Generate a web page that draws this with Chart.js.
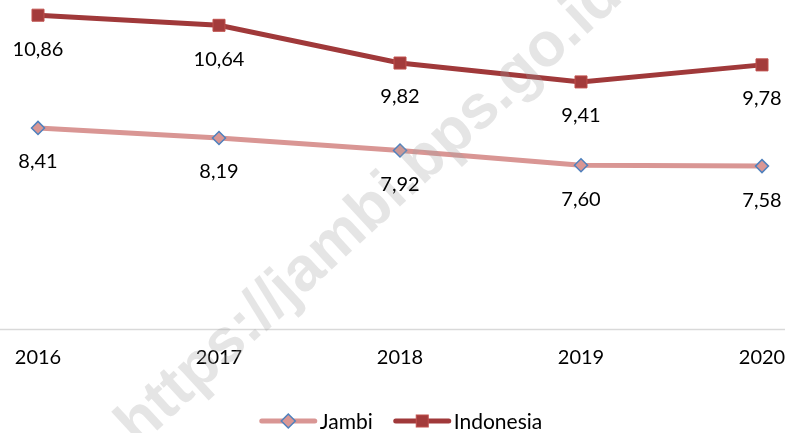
<!DOCTYPE html>
<html><head><meta charset="utf-8">
<script src="https://cdn.jsdelivr.net/npm/chart.js@4"></script>
<style>html,body{margin:0;padding:0;background:#fff;overflow:hidden}#wrap{width:785px;height:433px;position:relative}</style>
</head><body><div id="wrap"><canvas id="c" width="785" height="433"></canvas></div>
<script>
const years = ['2016', '2017', '2018', '2019', '2020'];
const jambi = [8.41, 8.19, 7.92, 7.60, 7.58];
const indonesia = [10.86, 10.64, 9.82, 9.41, 9.78];
const seriesNames = ['Jambi', 'Indonesia'];
const watermarkText = 'https://jambi.bps.go.id';

const FONT = 'Lato, "Open Sans", sans-serif';
const C_IND_LINE = '#A0393A', C_IND_FILL = '#A33B3B', C_IND_BORDER = '#C0504D';
const C_JAM_LINE = '#D99694', C_JAM_FILL = '#D99694', C_JAM_BORDER = '#4F81BD';

function drawDiamond(g, x, y) {
  g.beginPath(); g.moveTo(x - 7, y); g.lineTo(x, y - 7); g.lineTo(x + 7, y); g.lineTo(x, y + 7); g.closePath();
  g.fillStyle = C_JAM_FILL; g.fill(); g.lineWidth = 1.5; g.strokeStyle = C_JAM_BORDER; g.stroke();
}
function drawSquare(g, x, y) {
  g.fillStyle = C_IND_FILL; g.fillRect(x - 6, y - 6, 12, 12);
  g.lineWidth = 1; g.strokeStyle = C_IND_BORDER; g.strokeRect(x - 6, y - 6, 12, 12);
}

const fullAxisLine = {
  id: 'fullAxisLine',
  beforeDatasetsDraw(chart) {
    const ctx = chart.ctx, y = Math.round(chart.chartArea.bottom) + 0.5;
    ctx.save(); ctx.strokeStyle = '#D9D9D9'; ctx.lineWidth = 1.5;
    ctx.beginPath(); ctx.moveTo(0, y); ctx.lineTo(chart.width, y); ctx.stroke(); ctx.restore();
  }
};
const overlay = {
  id: 'overlay',
  afterDatasetsDraw(chart) {
    const ctx = chart.ctx;
    // watermark
    ctx.save();
    ctx.translate(370, 211); ctx.rotate(-0.745);
    ctx.font = 'bold 62px "Liberation Sans", Arial, sans-serif';
    ctx.fillStyle = 'rgba(160,160,160,0.27)';
    ctx.textAlign = 'center'; ctx.textBaseline = 'middle';
    ctx.fillText(watermarkText, 0, 0);
    ctx.restore();
    // data labels
    ctx.save();
    ctx.font = '20px ' + FONT; ctx.fillStyle = '#000';
    ctx.textAlign = 'center'; ctx.textBaseline = 'middle';
    chart.data.datasets.forEach((ds, i) => {
      chart.getDatasetMeta(i).data.forEach((pt, j) => {
        ctx.fillText(ds.data[j].toFixed(2).replace('.', ','), pt.x, pt.y + 34);
      });
    });
    ctx.restore();
    // legend (line + marker samples)
    ctx.save();
    ctx.font = '21px ' + FONT; ctx.textBaseline = 'middle'; ctx.textAlign = 'left';
    const sw = 57, gap = 3, itemGap = 21, ly = 421;
    const w1 = ctx.measureText(seriesNames[0]).width, w2 = ctx.measureText(seriesNames[1]).width;
    const total = sw + gap + w1 + itemGap + sw + gap + w2;
    let x = 401 - total / 2;
    const items = [[seriesNames[0], C_JAM_LINE, drawDiamond, w1], [seriesNames[1], C_IND_LINE, drawSquare, w2]];
    items.forEach(([name, col, mk, w]) => {
      ctx.strokeStyle = col; ctx.lineWidth = 5; ctx.lineCap = 'round';
      ctx.beginPath(); ctx.moveTo(x + 2, ly); ctx.lineTo(x + sw - 2, ly); ctx.stroke();
      mk(ctx, x + sw / 2, ly);
      ctx.fillStyle = '#000';
      ctx.fillText(name, x + sw + gap, ly + 1);
      x += sw + gap + w + itemGap;
    });
    ctx.restore();
  }
};

new Chart(document.getElementById('c'), {
  type: 'line',
  data: {
    labels: years,
    datasets: [
      { label: seriesNames[0], data: jambi, borderColor: C_JAM_LINE, borderWidth: 5, tension: 0,
        pointStyle: 'rectRot', pointRadius: 6.5, pointBackgroundColor: C_JAM_FILL, pointBorderColor: C_JAM_BORDER, pointBorderWidth: 1.5 },
      { label: seriesNames[1], data: indonesia, borderColor: C_IND_LINE, borderWidth: 5, tension: 0,
        pointStyle: 'rect', pointRadius: 8.5, pointBackgroundColor: C_IND_FILL, pointBorderColor: C_IND_BORDER, pointBorderWidth: 1 }
    ]
  },
  options: {
    responsive: false, animation: false, devicePixelRatio: 1,
    layout: { autoPadding: false, padding: { left: 38, right: 23, top: 0, bottom: 54 } },
    scales: {
      x: { offset: false, grid: { display: false }, border: { display: false },
           ticks: { color: '#000', font: { family: FONT, size: 20 }, padding: 9 },
           afterFit(scale) { scale.paddingLeft = 0; scale.paddingRight = 0; } },
      y: { display: false, min: 4.04, max: 11.19 }
    },
    plugins: { tooltip: { enabled: false }, legend: { display: false } }
  },
  plugins: [fullAxisLine, overlay]
});
</script></body></html>
